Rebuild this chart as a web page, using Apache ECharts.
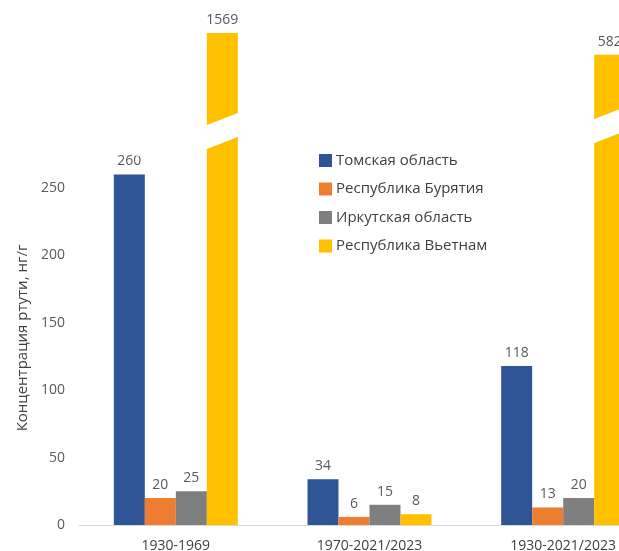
<!DOCTYPE html>
<html>
<head>
<meta charset="utf-8">
<script src="https://cdn.jsdelivr.net/npm/echarts@6/dist/echarts.min.js"></script>
<style>
  html, body { margin: 0; padding: 0; overflow: hidden; background: #fff; }
  #chart { width: 660px; height: 551px; }
</style>
</head>
<body>
<div id="chart"></div>
<script>
// Mercury concentration in sediments by period and region, ng/g
const periods = ['1930-1969', '1970-2021/2023', '1930-2021/2023'];
const regions = ['Томская область', 'Республика Бурятия', 'Иркутская область', 'Республика Вьетнам'];
const tomsk = [260, 34, 118];
const buryatia = [20, 6, 13];
const irkutsk = [25, 15, 20];
const vietnam = [1569, 8, 582];
const seriesValues = [tomsk, buryatia, irkutsk, vietnam];
const colors = ['#2F5597', '#ED7D31', '#7F7F7F', '#FFC000'];
const yAxisName = 'Концентрация ртути, нг/г';

const FONT = 'Open Sans';

// Broken value axis: two compressed ranges so the tall bars fit
const BREAKS = [
  { start: 282, end: 533, gap: 17.8 },
  { start: 590, end: 1561, gap: 0 }
];
const Y_MIN = 0;
const Y_MAX = 1575;
// Span of the broken axis after compression (used by the tick-label axis)
const compressedSpan = (Y_MAX - Y_MIN) - BREAKS.reduce((s, b) => s + (b.end - b.start) - b.gap, 0);

const chart = echarts.init(document.getElementById('chart'), null, { renderer: 'canvas' });

const option = {
  backgroundColor: '#fff',
  animation: false,
  textStyle: { fontFamily: FONT },
  grid: { left: 79, right: 0, top: 25, bottom: 26, containLabel: false, outerBoundsMode: 'none' },
  legend: {
    orient: 'vertical',
    left: 319,
    top: 153,
    zlevel: 1,
    z: 50,
    padding: 0,
    icon: 'rect',
    itemWidth: 13,
    itemHeight: 13,
    itemGap: 13.5,
    data: regions,
    textStyle: { fontFamily: FONT, fontSize: 15, color: '#404040', padding: [0, 0, 0, -1] }
  },
  xAxis: {
    type: 'category',
    data: periods,
    axisTick: { show: false },
    axisLine: { lineStyle: { color: '#D9D9D9', width: 1 } },
    axisLabel: { fontFamily: FONT, fontSize: 14, color: '#404040', margin: 14 }
  },
  yAxis: [{
    type: 'value',
    min: Y_MIN,
    max: Y_MAX,
    breaks: BREAKS,
    breakArea: {
      show: true,
      expandOnClick: false,
      zigzagAmplitude: 18,
      zigzagMinSpan: 93,
      zigzagMaxSpan: 93,
      itemStyle: { color: '#fff', borderColor: '#fff', borderWidth: 0, opacity: 1 }
    },
    splitLine: { show: false },
    axisLine: { show: false },
    axisTick: { show: false },
    axisLabel: { show: false }
  }, {
    // Plain scale sharing the lower segment, used only for the 0–250 tick labels
    type: 'value',
    position: 'left',
    min: 0,
    max: compressedSpan,
    interval: 50,
    splitLine: { show: false },
    axisLine: { show: false },
    axisTick: { show: false },
    axisLabel: {
      fontFamily: FONT, fontSize: 14, color: '#595959', margin: 14,
      formatter: v => (v <= 250 && v % 50 === 0) ? String(v) : ''
    }
  }],
  graphic: [{
    type: 'text',
    x: 23,
    y: 338,
    rotation: Math.PI / 2,
    style: {
      text: yAxisName,
      fontFamily: FONT,
      fontSize: 15,
      fill: '#404040',
      align: 'center',
      verticalAlign: 'middle'
    }
  }],
  series: regions.map((name, i) => ({
    name,
    type: 'bar',
    yAxisIndex: 0,
    data: seriesValues[i],
    barWidth: 31,
    barGap: '0%',
    itemStyle: { color: colors[i] },
    label: {
      show: true,
      position: 'top',
      distance: 6,
      fontFamily: FONT,
      fontSize: 14,
      color: '#595959'
    }
  }))
};

chart.setOption(option);
</script>
</body>
</html>
